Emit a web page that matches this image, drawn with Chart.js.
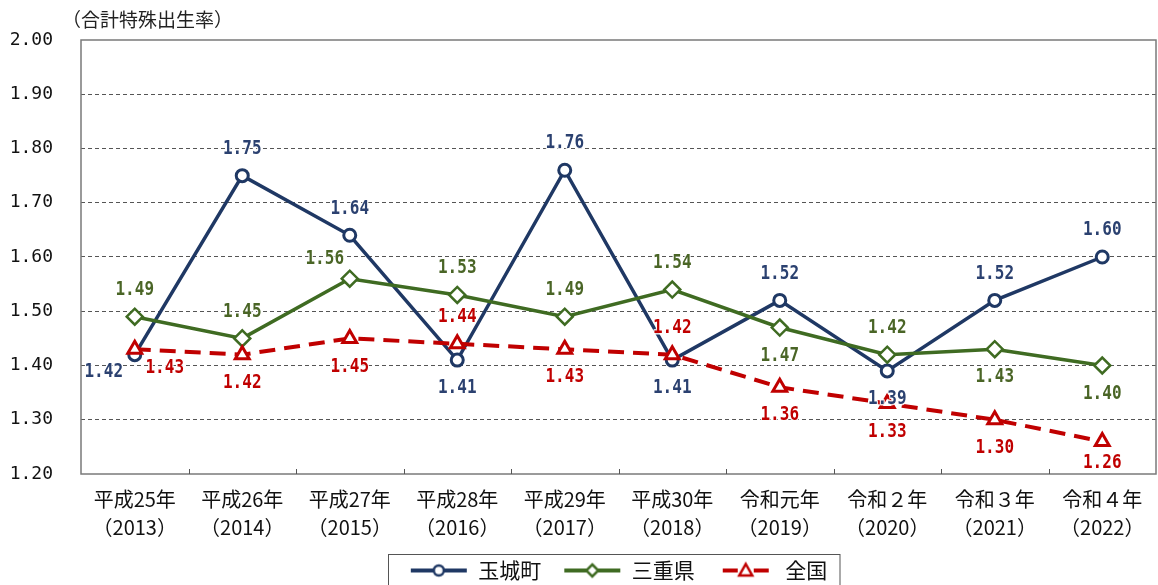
<!DOCTYPE html>
<html>
<head>
<meta charset="utf-8">
<script src="https://cdn.jsdelivr.net/npm/chart.js@4.4.0/dist/chart.umd.min.js"></script>
<style>
  html, body { margin: 0; padding: 0; background: #fff; overflow: hidden; }
  #wrap { width: 1158px; height: 585px; }
</style>
</head>
<body>
<div id="wrap"><canvas id="chart"></canvas></div>
<script>
// data
const categories = [
  ['平成25年', '（2013）'], ['平成26年', '（2014）'], ['平成27年', '（2015）'],
  ['平成28年', '（2016）'], ['平成29年', '（2017）'], ['平成30年', '（2018）'],
  ['令和元年', '（2019）'], ['令和２年', '（2020）'], ['令和３年', '（2021）'],
  ['令和４年', '（2022）'],
];
const tamakiValues = [1.42, 1.75, 1.64, 1.41, 1.76, 1.41, 1.52, 1.39, 1.52, 1.60];
const mieValues = [1.49, 1.45, 1.56, 1.53, 1.49, 1.54, 1.47, 1.42, 1.43, 1.40];
const zenkokuValues = [1.43, 1.42, 1.45, 1.44, 1.43, 1.42, 1.36, 1.33, 1.30, 1.26];
const seriesNames = ['玉城町', '三重県', '全国'];
const yMin = 1.2;
const yMax = 2.0;
const yStep = 0.1;
const axisTitle = '（合計特殊出生率）';

// where each value label sits relative to its point
const labelOffsets = {
  up: [0, -27],
  down: [0, 28],
  downNear: [0, 21],
  lowerLeft: [-31, 17],
  lowerRight: [30, 19],
  upperLeft: [-25, -20],
};
const tamakiPlace = ['lowerLeft', 'up', 'up', 'down', 'up', 'down', 'up', 'down', 'up', 'up'];
const miePlace = ['up', 'up', 'upperLeft', 'up', 'up', 'up', 'down', 'up', 'down', 'down'];
const zenkokuPlace = ['lowerRight', 'down', 'down', 'up', 'down', 'up', 'down', 'down', 'down', 'downNear'];

const NAVY = '#1F3864';
const GREEN = '#3F6B22';
const RED = '#C00000';

function legendSample(color, marker, dashed) {
  const c = document.createElement('canvas');
  c.width = 58;
  c.height = 20;
  const g = c.getContext('2d');
  g.strokeStyle = color;
  g.lineWidth = 4;
  g.beginPath();
  if (dashed) {
    g.moveTo(6, 10); g.lineTo(21, 10);
    g.moveTo(37, 10); g.lineTo(52, 10);
  } else {
    g.moveTo(1, 10); g.lineTo(57, 10);
  }
  g.stroke();
  g.lineWidth = 2.5;
  g.fillStyle = '#fff';
  g.beginPath();
  if (marker === 'circle') {
    g.arc(29, 10, 5, 0, Math.PI * 2);
  } else if (marker === 'diamond') {
    g.moveTo(29, 4); g.lineTo(35, 10); g.lineTo(29, 16); g.lineTo(23, 10); g.closePath();
  } else {
    g.moveTo(29, 3.5); g.lineTo(35.5, 15); g.lineTo(22.5, 15); g.closePath();
  }
  g.fill();
  g.stroke();
  return c;
}

const frame = {
  id: 'frame',
  beforeDatasetsDraw(chart) {
    const { ctx, chartArea: a } = chart;
    const x = chart.scales.x;
    ctx.save();
    ctx.strokeStyle = '#7a7a7a';
    ctx.lineWidth = 1.5;
    ctx.strokeRect(a.left, a.top, a.right - a.left, a.bottom - a.top);
    // small inward ticks between categories
    ctx.lineWidth = 1;
    ctx.strokeStyle = '#555';
    const half = (x.getPixelForValue(1) - x.getPixelForValue(0)) / 2;
    for (let i = 1; i < categories.length; i++) {
      const px = Math.round(x.getPixelForValue(i) - half) + 0.5;
      ctx.beginPath();
      ctx.moveTo(px, a.bottom);
      ctx.lineTo(px, a.bottom - 5);
      ctx.stroke();
    }
    ctx.restore();
  },
  afterDatasetsDraw(chart) {
    const ctx = chart.ctx;
    chart.data.datasets.forEach((ds, di) => {
      const meta = chart.getDatasetMeta(di);
      meta.data.forEach((pt, i) => {
        const [dx, dy] = labelOffsets[ds.labelPlace[i]];
        const text = ds.data[i].toFixed(2);
        ctx.save();
        ctx.translate(pt.x + dx, pt.y + dy);
        ctx.scale(0.8, 1);
        ctx.font = 'bold 20px "DejaVu Sans Mono"';
        ctx.textAlign = 'center';
        ctx.textBaseline = 'middle';
        ctx.lineJoin = 'round';
        ctx.strokeStyle = 'rgba(255,255,255,0.85)';
        ctx.lineWidth = 3;
        ctx.strokeText(text, 0, 0);
        ctx.fillStyle = ds.labelColor;
        ctx.fillText(text, 0, 0);
        ctx.restore();
      });
    });
  },
  afterDraw(chart) {
    const ctx = chart.ctx;
    ctx.save();
    ctx.font = '19px "Noto Sans CJK JP"';
    ctx.fillStyle = '#222';
    ctx.textAlign = 'left';
    ctx.textBaseline = 'middle';
    ctx.fillText(axisTitle, 62, 20);
    // legend box
    const boxes = chart.legend.legendHitBoxes;
    if (boxes && boxes.length) {
      const left = Math.min(...boxes.map((b) => b.left)) - 22;
      const right = Math.max(...boxes.map((b) => b.left + b.width)) + 12;
      const top = boxes[0].top - 6;
      ctx.strokeStyle = '#555';
      ctx.lineWidth = 1;
      ctx.strokeRect(Math.round(left) + 0.5, Math.round(top) + 0.5, right - left, 60);
    }
    ctx.restore();
  },
};

new Chart(document.getElementById('chart'), {
  type: 'line',
  data: {
    labels: categories,
    datasets: [
      {
        label: seriesNames[0],
        data: tamakiValues,
        borderColor: NAVY,
        borderWidth: 3.5,
        pointStyle: 'circle',
        pointRadius: 6,
        pointBorderWidth: 3,
        pointBackgroundColor: '#fff',
        pointBorderColor: NAVY,
        labelColor: '#2B4170',
        labelPlace: tamakiPlace,
        legendImage: legendSample(NAVY, 'circle', false),
        order: 2,
      },
      {
        label: seriesNames[1],
        data: mieValues,
        borderColor: GREEN,
        borderWidth: 3.5,
        pointStyle: 'rectRot',
        pointRadius: 8,
        pointBorderWidth: 2.5,
        pointBackgroundColor: '#fff',
        pointBorderColor: GREEN,
        labelColor: '#4A6526',
        labelPlace: miePlace,
        legendImage: legendSample(GREEN, 'diamond', false),
        order: 1,
      },
      {
        label: seriesNames[2],
        data: zenkokuValues,
        borderColor: RED,
        borderWidth: 4,
        borderDash: [16, 9],
        pointStyle: 'triangle',
        pointRadius: 8,
        pointBorderWidth: 3,
        pointBackgroundColor: '#fff',
        pointBorderColor: RED,
        labelColor: '#C00000',
        labelPlace: zenkokuPlace,
        legendImage: legendSample(RED, 'triangle', true),
        order: 0,
      },
    ],
  },
  options: {
    responsive: true,
    maintainAspectRatio: false,
    animation: false,
    layout: { autoPadding: false, padding: { top: 40, right: 2, left: 0, bottom: -6 } },
    elements: { line: { tension: 0 } },
    scales: {
      x: {
        offset: true,
        grid: { display: false, offset: true },
        border: { display: false },
        ticks: {
          color: '#111',
          font: { family: '"Noto Sans CJK JP"', size: 20, lineHeight: 1.4 },
          padding: 3,
          maxRotation: 0,
          autoSkip: false,
        },
        afterFit: (s) => { s.height = 64; s.paddingLeft = 0; s.paddingRight = 0; },
      },
      y: {
        min: yMin,
        max: yMax,
        border: { display: false, dash: [4, 3] },
        grid: {
          drawTicks: false,
          lineWidth: 1,
          color: (c) => (c.tick.value <= yMin + 1e-6 || c.tick.value >= yMax - 1e-6 ? 'transparent' : '#555'),
        },
        ticks: {
          stepSize: yStep,
          color: '#111',
          padding: 28,
          font: { family: '"DejaVu Sans Mono"', size: 18 },
          callback: (v) => Number(v).toFixed(2),
        },
        afterFit: (s) => { s.width = 81; },
      },
    },
    plugins: {
      tooltip: { enabled: false },
      legend: {
        position: 'bottom',
        fullSize: false,
        labels: {
          usePointStyle: true,
          pointStyleWidth: 58,
          boxHeight: 20,
          padding: 22,
          color: '#111',
          font: { family: '"Noto Sans CJK JP"', size: 21 },
          sort: (a, b) => a.datasetIndex - b.datasetIndex,
          generateLabels: (chart) => chart.data.datasets.map((ds, i) => ({
            text: ds.label,
            pointStyle: ds.legendImage,
            datasetIndex: i,
            hidden: false,
            lineWidth: 0,
            fontColor: '#111',
          })),
        },
      },
    },
  },
  plugins: [frame],
});
</script>
</body>
</html>
